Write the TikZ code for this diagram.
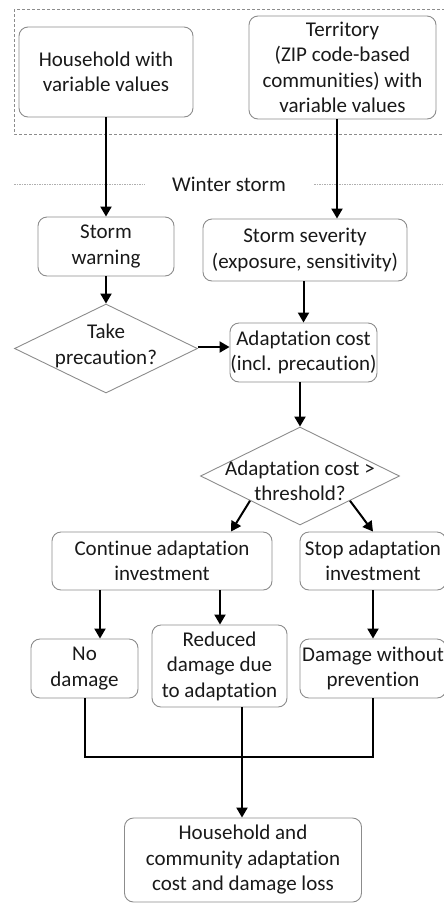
\documentclass[tikz,border=0pt]{standalone}
\usepackage{fontspec}
\setmainfont{Carlito}[RawFeature=-liga]
\usetikzlibrary{arrows.meta,shapes.geometric,calc}
\definecolor{boxgray}{RGB}{140,140,140}
\definecolor{guidegray}{RGB}{175,175,175}
\begin{document}
\begin{tikzpicture}[x=1pt,y=-1pt,
  txt/.style={align=center, inner sep=0pt, text=black!90, font=\fontsize{21}{25.5}\selectfont},
  box/.style={txt, draw=boxgray, line width=0.9pt, rounded corners=9pt},
  decision/.style={draw=boxgray, line width=0.9pt, diamond, inner sep=0pt},
  arr/.style={line width=2pt, -{Triangle[length=10pt,width=11pt]}},
  link/.style={line width=2pt},
  guide/.style={draw=guidegray, line width=0.6pt, dash pattern=on 1.5pt off 1pt}
]
\useasboundingbox (0,0) rectangle (444,903);
\clip (0,0) rectangle (444,903);

% inputs (dashed frame)
\draw[draw=boxgray, line width=0.8pt, dash pattern=on 3pt off 2pt] (14,9) rectangle (452,134);
\node[box, minimum width=174pt, minimum height=90pt] (hh) at (106,72) {Household with\\variable values};
\node[box, minimum width=187pt, minimum height=103pt] (ter) at (342.5,67.5) {Territory\\(ZIP code-based\\communities) with\\variable values};

% event line
\node[txt] (ws) at (229,184) {Winter storm};
\coordinate (wl1) at (14,184);
\coordinate (wl2) at (145,184);
\coordinate (wr1) at (314,184);
\coordinate (wr2) at (450,184);
\draw[guide] (wl1) -- (wl2);
\draw[guide] (wr1) -- (wr2);

% storm effects
\node[box, minimum width=136pt, minimum height=59pt] (sw) at (106,246.5) {Storm\\warning};
\node[box, minimum width=204pt, minimum height=62pt] (sev) at (305,250) {Storm severity\\(exposure, sensitivity)};
\node[decision, minimum width=183pt, minimum height=89pt] (d1) at (106,348.5) {};
\node[txt] (d1t) at (106,346) {Take\\precaution?};
\node[box, minimum width=147pt, minimum height=59pt] (ad) at (303.5,352.5) {Adaptation cost\\(incl. precaution)};
\node[decision, minimum width=199pt, minimum height=98pt] (d2) at (300,476) {};
\node[txt] (d2t) at (300,481) {Adaptation cost >\\threshold?};

% decisions
\node[box, minimum width=220pt, minimum height=58pt] (cont) at (162,561) {Continue adaptation\\investment};
\node[box, minimum width=146pt, minimum height=58pt] (stop) at (373,561) {Stop adaptation\\investment};

% outcomes
\node[box, minimum width=107pt, minimum height=59pt] (nd) at (84.5,668.5) {No\\damage};
\node[box, minimum width=135pt, minimum height=82pt] (red) at (219.5,666) {Reduced\\damage due\\to adaptation};
\node[box, minimum width=146pt, minimum height=59pt] (dw) at (373,668.5) {Damage without\\prevention};
\node[box, minimum width=237pt, minimum height=84pt] (fin) at (243,860) {Household and\\community adaptation\\cost and damage loss};

% connectors
\draw[arr] (hh.south) -- (hh.south |- sw.north);
\coordinate (t1) at ([xshift=-5.5pt]ter.south);
\draw[arr] (t1) -- (t1 |- sev.north);
\draw[arr] (sw.south -| d1.north) -- (d1.north);
\draw[arr] (sev.south -| ad.north) -- (ad.north);
\draw[arr] ([yshift=1.5pt]d1.east) -- ([yshift=1.5pt]d1.east -| ad.west);
\draw[arr] (ad.south -| d2.north) -- (d2.north);
\draw[arr] ($(d2.south)!0.5!(d2.west)$) -- ([xshift=69pt]cont.north);
\draw[arr] ($(d2.south)!0.5!(d2.east)$) -- (stop.north);
\draw[arr] ([xshift=-62pt]cont.south) -- ([xshift=15.5pt]nd.north);
\draw[arr] ([xshift=58pt]cont.south) -- ([xshift=0.5pt]red.north);
\draw[arr] (stop.south) -- (dw.north);
\coordinate (j) at (242,757);
\draw[link] (nd.south) |- (j) -| (dw.south);
\draw[arr] (red.south -| j) -- (j |- fin.north);
\end{tikzpicture}
\end{document}
